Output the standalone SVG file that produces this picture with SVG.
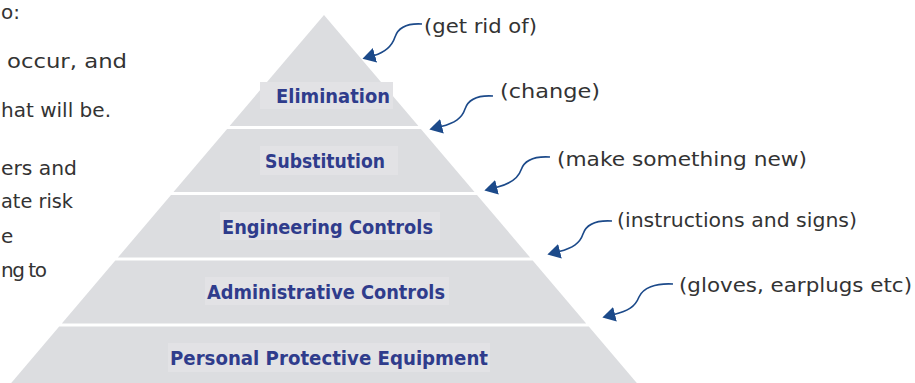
<svg xmlns="http://www.w3.org/2000/svg" width="915" height="383" viewBox="0 0 915 383">
  <style>
    .tier { fill: #dcdde0; }
    .lblbg { fill: #e2e2e5; }
    .lbl { font-family: "DejaVu Sans Condensed", "DejaVu Sans", sans-serif; font-size: 20px; font-weight: bold; fill: #2f3c8c; }
    .note { font-family: "DejaVu Sans", sans-serif; font-size: 20px; fill: #333333; }
    .side { font-family: "DejaVu Sans", sans-serif; font-size: 20px; fill: #333333; }
    .arrow { fill: none; stroke: #1c4a8a; stroke-width: 1.6; marker-end: url(#head); }
  </style>
  <defs>
    <marker id="head" markerUnits="userSpaceOnUse" markerWidth="13" markerHeight="15" viewBox="0 0 13 15" refX="1" refY="7.5" orient="auto">
      <path d="M0,0 L13,7.5 L0,15 Z" fill="#1c4a8a"/>
    </marker>
  </defs>

  <rect width="915" height="383" fill="#ffffff"/>

  <g id="side-text">
    <text class="side" x="1" y="19" textLength="19" lengthAdjust="spacing">o:</text>
    <text class="side" x="7" y="68" textLength="120" lengthAdjust="spacingAndGlyphs">occur, and</text>
    <text class="side" x="1" y="117" textLength="110" lengthAdjust="spacingAndGlyphs">hat will be.</text>
    <text class="side" x="1" y="175" textLength="76" lengthAdjust="spacingAndGlyphs">ers and</text>
    <text class="side" x="1" y="208" textLength="72" lengthAdjust="spacingAndGlyphs">ate risk</text>
    <text class="side" x="1" y="243">e</text>
    <text class="side" x="1" y="277" textLength="46" lengthAdjust="spacing">ng to</text>
  </g>

  <g id="tier-elimination">
    <polygon class="tier" points="324,15 418.4,126 229.6,126"/>
    <rect class="lblbg" x="260" y="82" width="133" height="27"/>
    <text class="lbl" x="276" y="103" textLength="114" lengthAdjust="spacingAndGlyphs">Elimination</text>
  </g>
  <g id="tier-substitution">
    <polygon class="tier" points="227.1,129 420.9,129 474.5,192 173.5,192"/>
    <rect class="lblbg" x="260" y="146" width="138" height="29"/>
    <text class="lbl" x="265" y="168" textLength="120" lengthAdjust="spacingAndGlyphs">Substitution</text>
  </g>
  <g id="tier-engineering">
    <polygon class="tier" points="171,195 477,195 530.1,257.5 117.9,257.5"/>
    <rect class="lblbg" x="220" y="212" width="220" height="28"/>
    <text class="lbl" x="222" y="234" textLength="211" lengthAdjust="spacingAndGlyphs">Engineering Controls</text>
  </g>
  <g id="tier-administrative">
    <polygon class="tier" points="115.3,260.5 532.7,260.5 586.2,323.5 61.8,323.5"/>
    <rect class="lblbg" x="205" y="277" width="244" height="28"/>
    <text class="lbl" x="207" y="299" textLength="238" lengthAdjust="spacingAndGlyphs">Administrative Controls</text>
  </g>
  <g id="tier-ppe">
    <polygon class="tier" points="59.2,326.5 588.8,326.5 636.8,383 11.2,383"/>
    <rect class="lblbg" x="168" y="343" width="322" height="29"/>
    <text class="lbl" x="170" y="365" textLength="318" lengthAdjust="spacingAndGlyphs">Personal Protective Equipment</text>
  </g>

  <g id="notes">
    <text class="note" x="424" y="33" textLength="113" lengthAdjust="spacingAndGlyphs">(get rid of)</text>
    <text class="note" x="500" y="98" textLength="100" lengthAdjust="spacingAndGlyphs">(change)</text>
    <text class="note" x="557" y="166" textLength="250" lengthAdjust="spacingAndGlyphs">(make something new)</text>
    <text class="note" x="617" y="227" textLength="240" lengthAdjust="spacingAndGlyphs">(instructions and signs)</text>
    <text class="note" x="679" y="292" textLength="233" lengthAdjust="spacingAndGlyphs">(gloves, earplugs etc)</text>
  </g>

  <g id="connectors">
    <path class="arrow" d="M422,24 C406,23 398,28 395,37 C392,46 386,52 374,55.5"/>
    <path class="arrow" d="M493,96 C477,95 468,100 465,109 C462,118 455,123 441,126.5"/>
    <path class="arrow" d="M550,157 C534,156 524,161 521,170 C518,179 510,184 496,187.5"/>
    <path class="arrow" d="M612,221 C596,220 586,225 583,234 C580,243 573,248 559,251.5"/>
    <path class="arrow" d="M673,284 C655,283 643,288 639,297 C635,307 628,311 614,314.5"/>
  </g>
</svg>
